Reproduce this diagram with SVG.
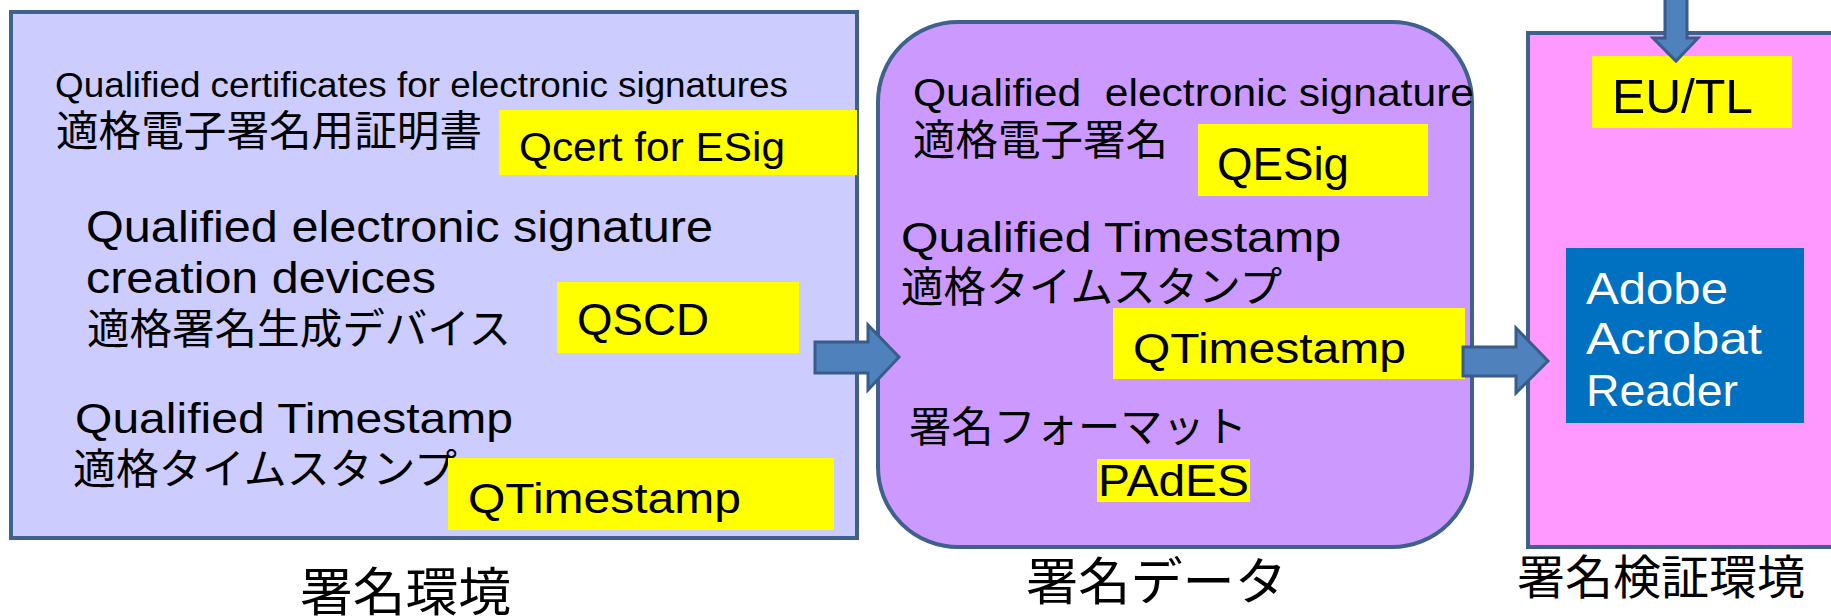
<svg xmlns="http://www.w3.org/2000/svg" width="1831" height="616" viewBox="0 0 1831 616">
  <style>
    .box { stroke: #3f618c; stroke-width: 4; }
    .hl { fill: #ffff00; }
    .t { font-family: "Liberation Sans", "Noto Sans CJK JP", sans-serif; fill: #000; }
    .j { font-family: "Noto Sans CJK JP", sans-serif; fill: #000; }
    .w { font-family: "Liberation Sans", sans-serif; fill: #fff; }
    .arrow { fill: #4f81bd; stroke: #385d8a; stroke-width: 3; stroke-linejoin: miter; }
  </style>

  <!-- Signing environment -->
  <g id="signing-env">
    <rect class="box" x="11" y="12" width="846" height="526" fill="#ccccff"/>
    <text class="t" x="55" y="97" font-size="35" textLength="733" lengthAdjust="spacingAndGlyphs">Qualified certificates for electronic signatures</text>
    <text class="j" x="56" y="146" font-size="42" textLength="426" lengthAdjust="spacingAndGlyphs">適格電子署名用証明書</text>
    <rect class="hl" x="499" y="110" width="358" height="65"/>
    <text class="t" x="519" y="161" font-size="40" textLength="266" lengthAdjust="spacingAndGlyphs">Qcert for ESig</text>
    <text class="t" x="86" y="242" font-size="45" textLength="627" lengthAdjust="spacingAndGlyphs">Qualified electronic signature</text>
    <text class="t" x="86" y="293" font-size="45" textLength="350" lengthAdjust="spacingAndGlyphs">creation devices</text>
    <text class="j" x="87" y="344" font-size="42" textLength="424" lengthAdjust="spacingAndGlyphs">適格署名生成デバイス</text>
    <rect class="hl" x="557" y="282" width="242" height="71"/>
    <text class="t" x="577" y="335" font-size="45" textLength="132" lengthAdjust="spacingAndGlyphs">QSCD</text>
    <text class="t" x="75" y="433" font-size="43" textLength="438" lengthAdjust="spacingAndGlyphs">Qualified Timestamp</text>
    <text class="j" x="73" y="484" font-size="42" textLength="384" lengthAdjust="spacingAndGlyphs">適格タイムスタンプ</text>
    <rect class="hl" x="448" y="458" width="386" height="72"/>
    <text class="t" x="468" y="513" font-size="43" textLength="273" lengthAdjust="spacingAndGlyphs">QTimestamp</text>
    <text class="j" x="300" y="611" font-size="52" textLength="211" lengthAdjust="spacingAndGlyphs">署名環境</text>
  </g>

  <!-- Signed data -->
  <g id="signed-data">
    <rect class="box" x="878" y="22" width="594" height="525" rx="80" ry="80" fill="#cc99ff"/>
    <text class="t" x="913" y="106" font-size="39" textLength="561" lengthAdjust="spacingAndGlyphs" xml:space="preserve">Qualified  electronic signature</text>
    <text class="j" x="913" y="155" font-size="42" textLength="255" lengthAdjust="spacingAndGlyphs">適格電子署名</text>
    <rect class="hl" x="1198" y="124" width="230" height="72"/>
    <text class="t" x="1217" y="180" font-size="46" textLength="132" lengthAdjust="spacingAndGlyphs">QESig</text>
    <text class="t" x="901" y="252" font-size="42" textLength="440" lengthAdjust="spacingAndGlyphs">Qualified Timestamp</text>
    <text class="j" x="901" y="302" font-size="42" textLength="381" lengthAdjust="spacingAndGlyphs">適格タイムスタンプ</text>
    <rect class="hl" x="1113" y="308" width="352" height="71"/>
    <text class="t" x="1133" y="363" font-size="43" textLength="273" lengthAdjust="spacingAndGlyphs">QTimestamp</text>
    <text class="j" x="909" y="442" font-size="42" textLength="338" lengthAdjust="spacingAndGlyphs">署名フォーマット</text>
    <rect class="hl" x="1097" y="459" width="153" height="43"/>
    <text class="t" x="1098" y="496" font-size="45" textLength="151" lengthAdjust="spacingAndGlyphs">PAdES</text>
    <text class="j" x="1026" y="600" font-size="51" textLength="261" lengthAdjust="spacingAndGlyphs">署名データ</text>
  </g>

  <!-- Signature validation environment -->
  <g id="validation-env">
    <rect class="box" x="1528" y="33" width="320" height="514" fill="#ff99ff"/>
    <rect class="hl" x="1592" y="56" width="200" height="72"/>
    <text class="t" x="1612" y="113" font-size="49" textLength="141" lengthAdjust="spacingAndGlyphs">EU/TL</text>
    <rect x="1566" y="248" width="238" height="175" fill="#0070c0"/>
    <text class="w" x="1586" y="304" font-size="44" textLength="142" lengthAdjust="spacingAndGlyphs">Adobe</text>
    <text class="w" x="1586" y="354" font-size="44" textLength="176" lengthAdjust="spacingAndGlyphs">Acrobat</text>
    <text class="w" x="1586" y="406" font-size="44" textLength="152" lengthAdjust="spacingAndGlyphs">Reader</text>
    <text class="j" x="1517" y="594" font-size="47" textLength="288" lengthAdjust="spacingAndGlyphs">署名検証環境</text>
  </g>

  <!-- Block arrows -->
  <g id="connectors">
    <polygon class="arrow" points="815,342 868,342 868,325 899,357 868,390 868,373 815,373"/>
    <polygon class="arrow" points="1463,347 1516,347 1516,328 1548,361 1516,393 1516,376 1463,376"/>
    <polygon class="arrow" points="1665,-5 1687,-5 1687,38 1698,38 1676,61 1653,38 1665,38"/>
  </g>
</svg>
